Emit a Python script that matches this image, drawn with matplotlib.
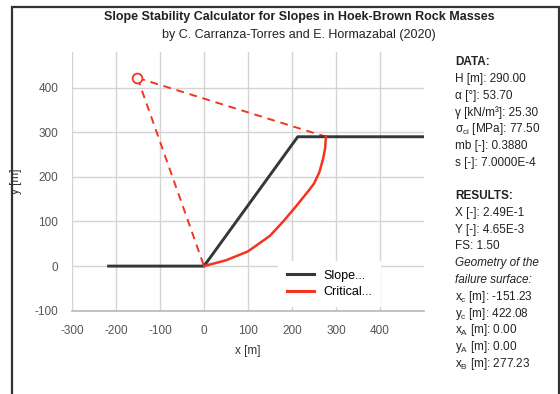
import matplotlib
matplotlib.use("Agg")
import matplotlib.pyplot as plt
from matplotlib.patches import Rectangle
from matplotlib.lines import Line2D

plt.rcParams['font.family'] = ['Liberation Sans', 'DejaVu Sans']
plt.rcParams['mathtext.fontset'] = 'custom'
plt.rcParams['mathtext.rm'] = 'Liberation Sans'
plt.rcParams['mathtext.it'] = 'Liberation Sans:italic'
plt.rcParams['axes.unicode_minus'] = False

# ---- data ----
slope_x = [-220, 0, 213.1, 500]
slope_y = [0, 0, 290, 290]
crit_x = [0, 50, 100, 150, 180, 210, 240, 250, 262, 270, 275, 277.23]
crit_y = [0, 13, 33, 68, 100, 135, 172, 185, 210, 238, 262, 290]
center_x, center_y = -151.23, 422.08
point_a = (0.0, 0.0)
point_b = (277.23, 290.0)
x_ticks = [-300, -200, -100, 0, 100, 200, 300, 400]
y_ticks = [-100, 0, 100, 200, 300, 400]
legend_labels = ["Slope...", "Critical..."]

data_lines = ["H [m]: 290.00", "α [°]: 53.70", "γ [kN/m³]: 25.30",
              "σ$_\\mathrm{ci}$ [MPa]: 77.50", "mb [-]: 0.3880", "s [-]: 7.0000E-4"]
result_lines = ["X [-]: 2.49E-1", "Y [-]: 4.65E-3", "FS: 1.50"]
geom_lines = ["x$_\\mathrm{c}$ [m]: -151.23", "y$_\\mathrm{c}$ [m]: 422.08",
              "x$_\\mathrm{A}$ [m]: 0.00", "y$_\\mathrm{A}$ [m]: 0.00",
              "x$_\\mathrm{B}$ [m]: 277.23"]

W, H = 560, 394
fig = plt.figure(figsize=(W / 100, H / 100), dpi=100)

def fx(px):
    return px / W

def fy(py):
    return 1 - py / H

# frame
fig.patches.append(Rectangle((fx(12), fy(420)), fx(559) - fx(12), fy(7) - fy(420),
                             transform=fig.transFigure, fill=False,
                             edgecolor='#333333', linewidth=1.6, clip_on=False))

ax = fig.add_axes([fx(72), fy(310.7), fx(424) - fx(72), fy(52) - fy(310.7)])
ax.set_xlim(-300, 500)
ax.set_ylim(-100, 480)
ax.set_xticks(x_ticks)
ax.set_yticks(y_ticks)
ax.grid(True, color='#d4d4d4', linewidth=1.0)
ax.set_axisbelow(True)
for s in ['top', 'right', 'left']:
    ax.spines[s].set_visible(False)
ax.spines['bottom'].set_color('#b8b8b8')
ax.spines['bottom'].set_linewidth(1.2)
ax.tick_params(length=0, labelsize=8.5, labelcolor='#555555')
ax.tick_params(axis='x', pad=10)
ax.tick_params(axis='y', pad=10)

red = '#f5331f'
ax.plot([center_x, point_a[0]], [center_y, point_a[1]], color=red, lw=1.4,
        dashes=(4, 3))
ax.plot([center_x, point_b[0]], [center_y, point_b[1]], color=red, lw=1.4,
        dashes=(4, 3))
ax.plot(slope_x, slope_y, color='#333838', lw=2.1, solid_capstyle='butt')
ax.plot(crit_x, crit_y, color=red, lw=1.8)
ax.plot([center_x], [center_y], marker='o', ms=7, mfc='white', mec=red, mew=1.3)

ax.set_xlabel("x [m]", fontsize=8.5, color='#333333', labelpad=6)
ax.set_ylabel("y [m]", fontsize=8.5, color='#333333')
ax.yaxis.set_label_coords((22 - 72) / 352, 0.5)

handles = [Line2D([0], [0], color='#333838', lw=2.2),
           Line2D([0], [0], color=red, lw=2.2)]
leg = ax.legend(handles, legend_labels, loc='upper left',
                bbox_to_anchor=((278 - 72) / 352, (310.7 - 261) / 258.7),
                frameon=True, fontsize=9, handlelength=2.2, handletextpad=0.7,
                labelspacing=0.35, borderaxespad=0, borderpad=0.7,
                fancybox=False)
leg.get_frame().set_edgecolor('none')
leg.get_frame().set_facecolor('white')
leg.get_frame().set_alpha(1)

fig.text(fx(299), fy(17), "Slope Stability Calculator for Slopes in Hoek-Brown Rock Masses",
         ha='center', va='center', fontsize=9, fontweight='bold', color='#222222')
fig.text(fx(299), fy(35), "by C. Carranza-Torres and E. Hormazabal (2020)",
         ha='center', va='center', fontsize=9, color='#222222')

tx = fx(455)
step = 16.8
y0 = 62
fs = 8.5
fig.text(tx, fy(y0), "DATA:", fontsize=fs, fontweight='bold', va='center', color='#222222')
for i, t in enumerate(data_lines):
    fig.text(tx, fy(y0 + step * (i + 1)), t, fontsize=fs, va='center', color='#222222')
yr = 196
fig.text(tx, fy(yr), "RESULTS:", fontsize=fs, fontweight='bold', va='center', color='#222222')
k = 1
for t in result_lines:
    fig.text(tx, fy(yr + step * k), t, fontsize=fs, va='center', color='#222222')
    k += 1
for t in ["Geometry of the", "failure surface:"]:
    fig.text(tx, fy(yr + step * k), t, fontsize=fs, style='italic', va='center', color='#222222')
    k += 1
for t in geom_lines:
    fig.text(tx, fy(yr + step * k), t, fontsize=fs, va='center', color='#222222')
    k += 1

fig.savefig("out.png", dpi=100)
